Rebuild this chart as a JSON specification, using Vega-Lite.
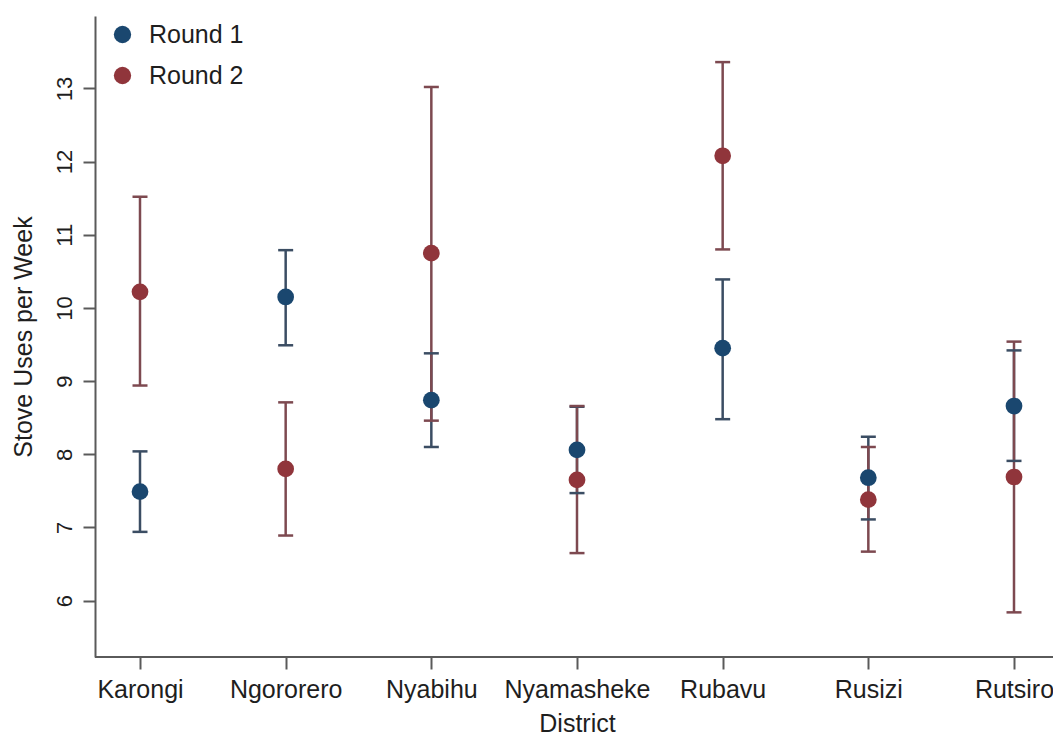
{
  "$schema": "https://vega.github.io/schema/vega-lite/v6.json",
  "autosize": {"type": "none"},
  "padding": {"left": 95, "top": 16, "right": 0, "bottom": 81},
  "width": 958,
  "height": 641,
  "background": "white",
  "config": {
    "font": "Liberation Sans",
    "view": {"stroke": null},
    "axis": {
      "labelFont": "Liberation Sans",
      "titleFont": "Liberation Sans",
      "labelFontSize": 25,
      "titleFontSize": 25,
      "labelColor": "#1e1e1e",
      "titleColor": "#1e1e1e",
      "titleFontWeight": "normal",
      "domainColor": "#5a5a5a",
      "domainWidth": 2,
      "tickColor": "#5a5a5a",
      "tickWidth": 2,
      "tickSize": 12
    },
    "legend": {
      "labelFont": "Liberation Sans",
      "labelFontSize": 25,
      "labelColor": "#1e1e1e"
    }
  },
  "data": {
    "values": [
      {"district": "Karongi", "round": "Round 1", "mean": 7.49, "lo": 6.94, "hi": 8.04},
      {"district": "Karongi", "round": "Round 2", "mean": 10.22, "lo": 8.94, "hi": 11.52},
      {"district": "Ngororero", "round": "Round 1", "mean": 10.15, "lo": 9.49, "hi": 10.79},
      {"district": "Ngororero", "round": "Round 2", "mean": 7.80, "lo": 6.89, "hi": 8.71},
      {"district": "Nyabihu", "round": "Round 1", "mean": 8.74, "lo": 8.10, "hi": 9.38},
      {"district": "Nyabihu", "round": "Round 2", "mean": 10.75, "lo": 8.46, "hi": 13.02},
      {"district": "Nyamasheke", "round": "Round 1", "mean": 8.06, "lo": 7.47, "hi": 8.65},
      {"district": "Nyamasheke", "round": "Round 2", "mean": 7.65, "lo": 6.65, "hi": 8.66},
      {"district": "Rubavu", "round": "Round 1", "mean": 9.45, "lo": 8.48, "hi": 10.39},
      {"district": "Rubavu", "round": "Round 2", "mean": 12.08, "lo": 10.80, "hi": 13.36},
      {"district": "Rusizi", "round": "Round 1", "mean": 7.68, "lo": 7.11, "hi": 8.24},
      {"district": "Rusizi", "round": "Round 2", "mean": 7.38, "lo": 6.67, "hi": 8.10},
      {"district": "Rutsiro", "round": "Round 1", "mean": 8.66, "lo": 7.91, "hi": 9.42},
      {"district": "Rutsiro", "round": "Round 2", "mean": 7.69, "lo": 5.84, "hi": 9.54}
    ]
  },
  "encoding": {
    "x": {
      "field": "district",
      "type": "nominal",
      "sort": ["Karongi", "Ngororero", "Nyabihu", "Nyamasheke", "Rubavu", "Rusizi", "Rutsiro"],
      "scale": {"type": "point", "range": [45, 919], "padding": 0},
      "axis": {"title": "District", "labelAngle": 0, "domain": false, "grid": false, "labelPadding": 8, "titlePadding": 9, "labelBaseline": "top"}
    }
  },
  "layer": [
    {
      "mark": {"type": "rule", "color": "#5a5a5a", "strokeWidth": 2},
      "encoding": {"x": null, "y": {"datum": 5.23, "type": "quantitative"}}
    },
    {
      "layer": [
        {
          "mark": {"type": "rule", "strokeWidth": 2.5},
          "encoding": {
            "y": {"field": "lo", "type": "quantitative"},
            "y2": {"field": "hi"},
            "color": {"field": "round", "type": "nominal", "scale": {"domain": ["Round 1", "Round 2"], "range": ["#3b4d63", "#7d4950"]}, "legend": null}
          }
        },
        {
          "mark": {"type": "tick", "orient": "horizontal", "size": 15, "thickness": 2.5, "opacity": 1},
          "encoding": {
            "y": {"field": "lo", "type": "quantitative"},
            "color": {"field": "round", "type": "nominal", "legend": null}
          }
        },
        {
          "mark": {"type": "tick", "orient": "horizontal", "size": 15, "thickness": 2.5, "opacity": 1},
          "encoding": {
            "y": {"field": "hi", "type": "quantitative"},
            "color": {"field": "round", "type": "nominal", "legend": null}
          }
        }
      ]
    },
    {
      "mark": {"type": "point", "filled": true, "shape": "circle", "size": 280, "opacity": 1},
      "encoding": {
        "y": {
          "field": "mean",
          "type": "quantitative",
          "title": "Stove Uses per Week",
          "scale": {"domain": [5.23, 13.99], "nice": false, "zero": false},
          "axis": {"values": [6, 7, 8, 9, 10, 11, 12, 13], "format": "d", "labelFontSize": 22, "labelAngle": 270, "labelAlign": "center", "labelBaseline": "alphabetic", "labelPadding": 12, "gridColor": "#e5eaec", "gridWidth": 1.5, "titlePadding": 17}
        },
        "color": {
          "field": "round",
          "type": "nominal",
          "scale": {"domain": ["Round 1", "Round 2"], "range": ["#1a476f", "#90353b"]},
          "legend": {"title": null, "orient": "none", "legendX": 15, "legendY": 6, "symbolType": "circle", "symbolSize": 300, "labelOffset": 14, "rowPadding": 15, "padding": 0}
        }
      }
    }
  ],
  "resolve": {"scale": {"color": "independent"}}
}
